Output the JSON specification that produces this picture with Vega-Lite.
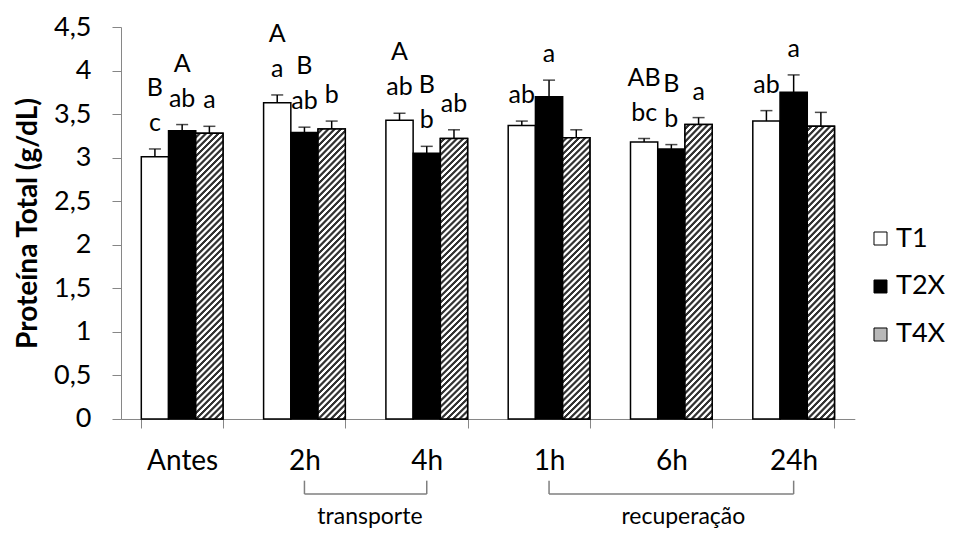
{
  "$schema": "https://vega.github.io/schema/vega-lite/v6.json",
  "width": 733.8,
  "height": 392,
  "autosize": {"type": "none"},
  "padding": {"left": 121, "top": 27, "right": 104, "bottom": 114},
  "background": "white",
  "config": {
    "font": "Lato",
    "view": {"stroke": null},
    "axis": {"labelFont": "Lato", "titleFont": "Lato"},
    "legend": {"labelFont": "Lato"}
  },
  "datasets": {
    "bars": [
      {"time": "Antes", "group": "T1", "value": 3.01, "hi": 3.10, "low": "c", "up": "B"},
      {"time": "Antes", "group": "T2X", "value": 3.31, "hi": 3.38, "low": "ab", "up": "A"},
      {"time": "Antes", "group": "T4X", "value": 3.28, "hi": 3.36, "low": "a", "up": ""},
      {"time": "2h", "group": "T1", "value": 3.63, "hi": 3.72, "low": "a", "up": "A"},
      {"time": "2h", "group": "T2X", "value": 3.29, "hi": 3.35, "low": "ab", "up": "B"},
      {"time": "2h", "group": "T4X", "value": 3.33, "hi": 3.42, "low": "b", "up": ""},
      {"time": "4h", "group": "T1", "value": 3.43, "hi": 3.51, "low": "ab", "up": "A"},
      {"time": "4h", "group": "T2X", "value": 3.05, "hi": 3.13, "low": "b", "up": "B"},
      {"time": "4h", "group": "T4X", "value": 3.22, "hi": 3.32, "low": "ab", "up": ""},
      {"time": "1h", "group": "T1", "value": 3.37, "hi": 3.42, "low": "ab", "up": ""},
      {"time": "1h", "group": "T2X", "value": 3.70, "hi": 3.89, "low": "a", "up": ""},
      {"time": "1h", "group": "T4X", "value": 3.23, "hi": 3.32, "low": "", "up": ""},
      {"time": "6h", "group": "T1", "value": 3.18, "hi": 3.22, "low": "bc", "up": "AB"},
      {"time": "6h", "group": "T2X", "value": 3.10, "hi": 3.15, "low": "b", "up": "B"},
      {"time": "6h", "group": "T4X", "value": 3.38, "hi": 3.46, "low": "a", "up": ""},
      {"time": "24h", "group": "T1", "value": 3.42, "hi": 3.54, "low": "ab", "up": ""},
      {"time": "24h", "group": "T2X", "value": 3.75, "hi": 3.95, "low": "a", "up": ""},
      {"time": "24h", "group": "T4X", "value": 3.36, "hi": 3.52, "low": "", "up": ""}
    ],
    "ends": [{"cat": "2h"}, {"cat": "4h"}, {"cat": "1h"}, {"cat": "24h"}],
    "spans": [{"s": "2h", "e": "4h"}, {"s": "1h", "e": "24h"}]
  },
  "layer": [
    {
      "data": {"name": "bars"},
      "mark": {"type": "bar", "stroke": "#000000", "strokeWidth": 1.5},
      "encoding": {
        "x": {
          "field": "time", "type": "nominal", "sort": null,
          "scale": {"domain": ["Antes", "2h", "4h", "1h", "6h", "24h"], "paddingInner": 0.332, "paddingOuter": 0.166},
          "axis": {
            "title": null, "labelAngle": 0, "tickBand": "extent",
            "domainColor": "#868686", "tickColor": "#868686", "tickSize": 9, "tickWidth": 1, "domainWidth": 1,
            "labelFontSize": 28, "labelColor": "#000000", "labelPadding": 20
          }
        },
        "xOffset": {"field": "group", "type": "nominal", "scale": {"domain": ["T1", "T2X", "T4X"], "paddingInner": 0, "paddingOuter": 0}},
        "y": {
          "field": "value", "type": "quantitative",
          "scale": {"domain": [0, 4.5], "nice": false, "zero": true},
          "axis": {
            "title": "Proteína Total (g/dL)", "titleFont": "Lato", "titleFontSize": 28, "titleFontWeight": "bold", "titleColor": "#000000", "titlePadding": 11,
            "values": [0, 0.5, 1, 1.5, 2, 2.5, 3, 3.5, 4, 4.5],
            "labelExpr": "replace(toString(datum.value), '.', ',')",
            "grid": false, "domainColor": "#868686", "tickColor": "#868686", "tickSize": 9, "domainWidth": 1,
            "labelFontSize": 27, "labelColor": "#000000", "labelPadding": 21
          }
        },
        "fill": {
          "field": "group", "type": "nominal",
          "scale": {"domain": ["T1", "T2X", "T4X"], "range": ["#ffffff", "#000000", "#b8b8b8"]},
          "legend": {
            "title": null, "orient": "none", "legendX": 746, "legendY": 198, "padding": 0,
            "symbolType": "square", "symbolSize": 169, "symbolStrokeColor": "#000000", "symbolStrokeWidth": 1,
            "labelFontSize": 27, "labelColor": "#000000", "labelOffset": 2, "rowPadding": 20
          }
        }
      }
    },
    {
      "data": {"name": "bars"},
      "transform": [{"filter": "datum.group === 'T4X'"}],
      "mark": {
        "type": "bar", "stroke": "#000000", "strokeWidth": 1.5,
        "fill": {
          "gradient": "linear", "x1": 0, "y1": 0, "x2": 0.104, "y2": 1.086,
          "stops": [
            {"offset":0,"color":"#fff"},{"offset":0.007,"color":"#fff"},{"offset":0.01,"color":"#333"},{"offset":0.017,"color":"#333"},
            {"offset":0.02,"color":"#fff"},{"offset":0.027,"color":"#fff"},{"offset":0.03,"color":"#333"},{"offset":0.037,"color":"#333"},
            {"offset":0.04,"color":"#fff"},{"offset":0.047,"color":"#fff"},{"offset":0.05,"color":"#333"},{"offset":0.057,"color":"#333"},
            {"offset":0.06,"color":"#fff"},{"offset":0.067,"color":"#fff"},{"offset":0.07,"color":"#333"},{"offset":0.077,"color":"#333"},
            {"offset":0.08,"color":"#fff"},{"offset":0.087,"color":"#fff"},{"offset":0.09,"color":"#333"},{"offset":0.097,"color":"#333"},
            {"offset":0.1,"color":"#fff"},{"offset":0.107,"color":"#fff"},{"offset":0.11,"color":"#333"},{"offset":0.117,"color":"#333"},
            {"offset":0.12,"color":"#fff"},{"offset":0.127,"color":"#fff"},{"offset":0.13,"color":"#333"},{"offset":0.137,"color":"#333"},
            {"offset":0.14,"color":"#fff"},{"offset":0.147,"color":"#fff"},{"offset":0.15,"color":"#333"},{"offset":0.157,"color":"#333"},
            {"offset":0.16,"color":"#fff"},{"offset":0.167,"color":"#fff"},{"offset":0.17,"color":"#333"},{"offset":0.177,"color":"#333"},
            {"offset":0.18,"color":"#fff"},{"offset":0.187,"color":"#fff"},{"offset":0.19,"color":"#333"},{"offset":0.197,"color":"#333"},
            {"offset":0.2,"color":"#fff"},{"offset":0.207,"color":"#fff"},{"offset":0.21,"color":"#333"},{"offset":0.217,"color":"#333"},
            {"offset":0.22,"color":"#fff"},{"offset":0.227,"color":"#fff"},{"offset":0.23,"color":"#333"},{"offset":0.237,"color":"#333"},
            {"offset":0.24,"color":"#fff"},{"offset":0.247,"color":"#fff"},{"offset":0.25,"color":"#333"},{"offset":0.257,"color":"#333"},
            {"offset":0.26,"color":"#fff"},{"offset":0.267,"color":"#fff"},{"offset":0.27,"color":"#333"},{"offset":0.277,"color":"#333"},
            {"offset":0.28,"color":"#fff"},{"offset":0.287,"color":"#fff"},{"offset":0.29,"color":"#333"},{"offset":0.297,"color":"#333"},
            {"offset":0.3,"color":"#fff"},{"offset":0.307,"color":"#fff"},{"offset":0.31,"color":"#333"},{"offset":0.317,"color":"#333"},
            {"offset":0.32,"color":"#fff"},{"offset":0.327,"color":"#fff"},{"offset":0.33,"color":"#333"},{"offset":0.337,"color":"#333"},
            {"offset":0.34,"color":"#fff"},{"offset":0.347,"color":"#fff"},{"offset":0.35,"color":"#333"},{"offset":0.357,"color":"#333"},
            {"offset":0.36,"color":"#fff"},{"offset":0.367,"color":"#fff"},{"offset":0.37,"color":"#333"},{"offset":0.377,"color":"#333"},
            {"offset":0.38,"color":"#fff"},{"offset":0.387,"color":"#fff"},{"offset":0.39,"color":"#333"},{"offset":0.397,"color":"#333"},
            {"offset":0.4,"color":"#fff"},{"offset":0.407,"color":"#fff"},{"offset":0.41,"color":"#333"},{"offset":0.417,"color":"#333"},
            {"offset":0.42,"color":"#fff"},{"offset":0.427,"color":"#fff"},{"offset":0.43,"color":"#333"},{"offset":0.437,"color":"#333"},
            {"offset":0.44,"color":"#fff"},{"offset":0.447,"color":"#fff"},{"offset":0.45,"color":"#333"},{"offset":0.457,"color":"#333"},
            {"offset":0.46,"color":"#fff"},{"offset":0.467,"color":"#fff"},{"offset":0.47,"color":"#333"},{"offset":0.477,"color":"#333"},
            {"offset":0.48,"color":"#fff"},{"offset":0.487,"color":"#fff"},{"offset":0.49,"color":"#333"},{"offset":0.497,"color":"#333"},
            {"offset":0.5,"color":"#fff"},{"offset":0.507,"color":"#fff"},{"offset":0.51,"color":"#333"},{"offset":0.517,"color":"#333"},
            {"offset":0.52,"color":"#fff"},{"offset":0.527,"color":"#fff"},{"offset":0.53,"color":"#333"},{"offset":0.537,"color":"#333"},
            {"offset":0.54,"color":"#fff"},{"offset":0.547,"color":"#fff"},{"offset":0.55,"color":"#333"},{"offset":0.557,"color":"#333"},
            {"offset":0.56,"color":"#fff"},{"offset":0.567,"color":"#fff"},{"offset":0.57,"color":"#333"},{"offset":0.577,"color":"#333"},
            {"offset":0.58,"color":"#fff"},{"offset":0.587,"color":"#fff"},{"offset":0.59,"color":"#333"},{"offset":0.597,"color":"#333"},
            {"offset":0.6,"color":"#fff"},{"offset":0.607,"color":"#fff"},{"offset":0.61,"color":"#333"},{"offset":0.617,"color":"#333"},
            {"offset":0.62,"color":"#fff"},{"offset":0.627,"color":"#fff"},{"offset":0.63,"color":"#333"},{"offset":0.637,"color":"#333"},
            {"offset":0.64,"color":"#fff"},{"offset":0.647,"color":"#fff"},{"offset":0.65,"color":"#333"},{"offset":0.657,"color":"#333"},
            {"offset":0.66,"color":"#fff"},{"offset":0.667,"color":"#fff"},{"offset":0.67,"color":"#333"},{"offset":0.677,"color":"#333"},
            {"offset":0.68,"color":"#fff"},{"offset":0.687,"color":"#fff"},{"offset":0.69,"color":"#333"},{"offset":0.697,"color":"#333"},
            {"offset":0.7,"color":"#fff"},{"offset":0.707,"color":"#fff"},{"offset":0.71,"color":"#333"},{"offset":0.717,"color":"#333"},
            {"offset":0.72,"color":"#fff"},{"offset":0.727,"color":"#fff"},{"offset":0.73,"color":"#333"},{"offset":0.737,"color":"#333"},
            {"offset":0.74,"color":"#fff"},{"offset":0.747,"color":"#fff"},{"offset":0.75,"color":"#333"},{"offset":0.757,"color":"#333"},
            {"offset":0.76,"color":"#fff"},{"offset":0.767,"color":"#fff"},{"offset":0.77,"color":"#333"},{"offset":0.777,"color":"#333"},
            {"offset":0.78,"color":"#fff"},{"offset":0.787,"color":"#fff"},{"offset":0.79,"color":"#333"},{"offset":0.797,"color":"#333"},
            {"offset":0.8,"color":"#fff"},{"offset":0.807,"color":"#fff"},{"offset":0.81,"color":"#333"},{"offset":0.817,"color":"#333"},
            {"offset":0.82,"color":"#fff"},{"offset":0.827,"color":"#fff"},{"offset":0.83,"color":"#333"},{"offset":0.837,"color":"#333"},
            {"offset":0.84,"color":"#fff"},{"offset":0.847,"color":"#fff"},{"offset":0.85,"color":"#333"},{"offset":0.857,"color":"#333"},
            {"offset":0.86,"color":"#fff"},{"offset":0.867,"color":"#fff"},{"offset":0.87,"color":"#333"},{"offset":0.877,"color":"#333"},
            {"offset":0.88,"color":"#fff"},{"offset":0.887,"color":"#fff"},{"offset":0.89,"color":"#333"},{"offset":0.897,"color":"#333"},
            {"offset":0.9,"color":"#fff"},{"offset":0.907,"color":"#fff"},{"offset":0.91,"color":"#333"},{"offset":0.917,"color":"#333"},
            {"offset":0.92,"color":"#fff"},{"offset":0.927,"color":"#fff"},{"offset":0.93,"color":"#333"},{"offset":0.937,"color":"#333"},
            {"offset":0.94,"color":"#fff"},{"offset":0.947,"color":"#fff"},{"offset":0.95,"color":"#333"},{"offset":0.957,"color":"#333"},
            {"offset":0.96,"color":"#fff"},{"offset":0.967,"color":"#fff"},{"offset":0.97,"color":"#333"},{"offset":0.977,"color":"#333"},
            {"offset":0.98,"color":"#fff"},{"offset":0.987,"color":"#fff"},{"offset":0.99,"color":"#333"},{"offset":0.997,"color":"#333"},
            {"offset":1,"color":"#fff"}
          ]
        }
      },
      "encoding": {
        "x": {"field": "time", "type": "nominal", "sort": null},
        "xOffset": {"field": "group", "type": "nominal"},
        "y": {"field": "value", "type": "quantitative"}
      }
    },
    {
      "data": {"name": "bars"},
      "mark": {"type": "rule", "color": "#000000", "strokeWidth": 1.5},
      "encoding": {
        "x": {"field": "time", "type": "nominal", "sort": null},
        "xOffset": {"field": "group", "type": "nominal"},
        "y": {"field": "value", "type": "quantitative"},
        "y2": {"field": "hi"}
      }
    },
    {
      "data": {"name": "bars"},
      "mark": {"type": "tick", "orient": "horizontal", "color": "#000000", "size": 12, "thickness": 1.5},
      "encoding": {
        "x": {"field": "time", "type": "nominal", "sort": null},
        "xOffset": {"field": "group", "type": "nominal"},
        "y": {"field": "hi", "type": "quantitative"}
      }
    },
    {
      "data": {"name": "bars"},
      "mark": {"type": "text", "fontSize": 25, "color": "#000000", "baseline": "alphabetic", "dy": -18},
      "encoding": {
        "x": {"field": "time", "type": "nominal", "sort": null},
        "xOffset": {"field": "group", "type": "nominal"},
        "y": {"field": "hi", "type": "quantitative"},
        "text": {"field": "low"}
      }
    },
    {
      "data": {"name": "bars"},
      "mark": {"type": "text", "fontSize": 25, "color": "#000000", "baseline": "alphabetic", "dy": -53},
      "encoding": {
        "x": {"field": "time", "type": "nominal", "sort": null},
        "xOffset": {"field": "group", "type": "nominal"},
        "y": {"field": "hi", "type": "quantitative"},
        "text": {"field": "up"}
      }
    },
    {
      "data": {"name": "ends"},
      "mark": {"type": "rule", "color": "#7f7f7f", "strokeWidth": 1.5},
      "encoding": {
        "x": {"field": "cat", "type": "nominal", "bandPosition": 0.5},
        "y": {"datum": -0.708},
        "y2": {"datum": -0.861}
      }
    },
    {
      "data": {"name": "spans"},
      "mark": {"type": "rule", "color": "#7f7f7f", "strokeWidth": 1.5},
      "encoding": {
        "x": {"field": "s", "type": "nominal", "bandPosition": 0.5},
        "x2": {"field": "e", "bandPosition": 0.5},
        "y": {"datum": -0.861}
      }
    },
    {
      "data": {"values": [{"cat": "4h", "label": "transporte"}]},
      "mark": {"type": "text", "fontSize": 23, "color": "#000000", "baseline": "alphabetic", "dx": -16},
      "encoding": {
        "x": {"field": "cat", "type": "nominal", "bandPosition": 0},
        "y": {"datum": -1.21},
        "text": {"field": "label"}
      }
    },
    {
      "data": {"values": [{"cat": "6h", "label": "recuperação"}]},
      "mark": {"type": "text", "fontSize": 23, "color": "#000000", "baseline": "alphabetic", "dx": 12},
      "encoding": {
        "x": {"field": "cat", "type": "nominal", "bandPosition": 0.5},
        "y": {"datum": -1.21},
        "text": {"field": "label"}
      }
    }
  ]
}
